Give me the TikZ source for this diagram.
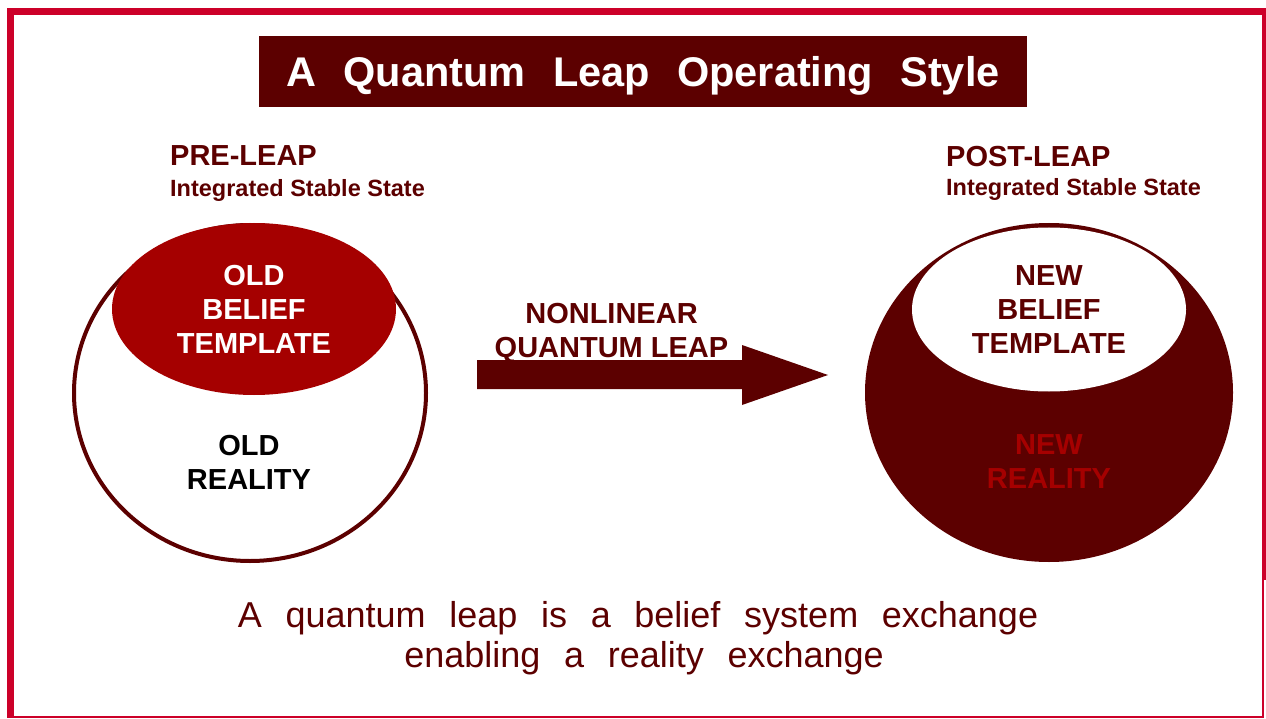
\documentclass[tikz,border=0pt]{standalone}
\usepackage{fontspec}
\setmainfont{Liberation Sans}
\usetikzlibrary{shapes.geometric}
\definecolor{leapmaroon}{RGB}{92,0,0}
\definecolor{leapred}{RGB}{165,0,0}
\definecolor{framered}{RGB}{204,0,41}
\tikzset{
  capsfont/.style={font=\fontsize{29}{34}\selectfont\bfseries,align=center,inner sep=0pt},
  headfont/.style={font=\fontsize{29}{34}\selectfont\bfseries,text=leapmaroon,inner sep=0pt,anchor=base west},
  subfont/.style={font=\fontsize{23.5}{28}\selectfont\bfseries,text=leapmaroon,inner sep=0pt,anchor=base west},
  widewords/.style={execute at begin node={\spaceskip=#1\relax}},
  captionfont/.style={font=\fontsize{36}{41}\selectfont,widewords=23.7pt,text=leapmaroon,inner sep=0pt,anchor=base}
}
\begin{document}
\begin{tikzpicture}[x=1pt,y=-1pt]
\useasboundingbox (0,0) rectangle (1266,719);

% Frame
\draw[framered,line width=7pt] (10.5,580) -- (10.5,11.5) -- (1265,11.5) -- (1265,580);
\draw[framered,line width=7pt] (10.5,578) -- (10.5,718);
\draw[framered,line width=2pt] (10.5,717) -- (1263,717) -- (1263,578);

% Title
\node[fill=leapmaroon,text=white,minimum width=768pt,minimum height=71pt,inner sep=0pt,
  text height=29.5pt,text depth=0pt,font=\fontsize{41.5}{48}\selectfont\bfseries,widewords=27.3pt]
  (title) at (643,71.5) {A Quantum Leap Operating Style};

% Pre-leap
\node[headfont] (prehead) at (170,166) {PRE-LEAP};
\node[subfont] (presub) at (170,197) {Integrated Stable State};
\node[ellipse,draw=leapmaroon,line width=4pt,fill=white,minimum width=352pt,minimum height=336pt,inner sep=0pt]
  (oldreality) at (250,393) {};
\node[ellipse,fill=leapred,text=white,capsfont,minimum width=284pt,minimum height=172pt]
  (oldbelief) at (254,309) {OLD\\BELIEF\\TEMPLATE};
\node[capsfont,anchor=north] (oldtext) at (249,435) {OLD\\REALITY};

% Leap arrow
\fill[leapmaroon] (477,360) -- (742,360) -- (742,345) -- (828,375) -- (742,405) -- (742,389) -- (477,389) -- cycle;
\node[capsfont,text=leapmaroon,anchor=north] (leaplabel) at (611.5,303) {NONLINEAR\\QUANTUM LEAP};

% Post-leap
\node[headfont] (posthead) at (946,167) {POST-LEAP};
\node[subfont] (postsub) at (946,196) {Integrated Stable State};
\node[ellipse,fill=leapmaroon,minimum width=368pt,minimum height=339pt,inner sep=0pt]
  (newreality) at (1049,392.5) {};
\node[ellipse,fill=white,text=leapmaroon,capsfont,minimum width=274pt,minimum height=164pt]
  (newbelief) at (1049,309.5) {NEW\\BELIEF\\TEMPLATE};
\node[capsfont,text=leapred,anchor=north] (newtext) at (1049,434.5) {NEW\\REALITY};

% Caption
\node[captionfont] (caption1) at (638,627) {A quantum leap is a belief system exchange};
\node[captionfont] (caption2) at (644,667) {enabling a reality exchange};
\end{tikzpicture}
\end{document}
